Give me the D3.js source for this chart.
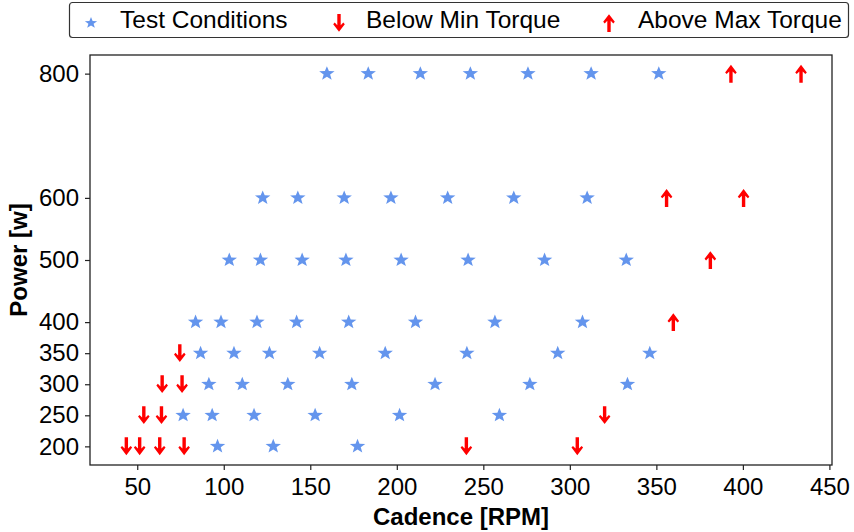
<!DOCTYPE html>
<html>
<head>
<meta charset="utf-8">
<script src="https://cdn.jsdelivr.net/npm/d3@7"></script>
<style>
  body { margin: 0; background: #fff; }
  svg { display: block; font-family: 'Liberation Sans', Arial, sans-serif; }
</style>
</head>
<body>
<svg id="chart" width="854" height="532"></svg>
<script>
// power levels (rows) and the cadences measured at each one
const powerLevels = [200, 250, 300, 350, 400, 500, 600, 800]

const testCadence = [
  [96.4, 128.6, 177.3],
  [76.5, 93.3, 117.5, 152.8, 201.6, 259.3],
  [91.4, 110.7, 137.0, 174.0, 222.1, 276.9, 333.3],
  [86.6, 105.9, 126.4, 155.4, 193.3, 240.5, 293.0, 346.2],
  [83.7, 98.4, 119.2, 142.1, 172.2, 210.8, 256.7, 307.3],
  [103.2, 121.2, 145.3, 170.6, 202.5, 241.2, 285.4, 332.6],
  [122.5, 142.8, 169.6, 196.6, 229.4, 267.6, 310.0],
  [159.6, 183.5, 213.6, 242.5, 275.8, 312.3, 351.4],
]

const belowCadence = [
  [43.7, 51.4, 63.0, 77.1, 240.2, 304.3],
  [53.8, 64.0, 320.1],
  [64.4, 75.9],
  [74.6],
  [], [], [], [],
]

const aboveCadence = [
  [], [], [], [],
  [359.8],
  [381.2],
  [355.9, 400.4],
  [393.1, 433.6],
]

const xTicks = [50, 100, 150, 200, 250, 300, 350, 400, 450]
const yTicks = [200, 250, 300, 350, 400, 500, 600, 800]
const legendLabels = ['Test Conditions', 'Below Min Torque', 'Above Max Torque']

const STAR = '#6495ED'
const RED = '#ff0000'
const TICK_FONT = 24
const LEGEND_FONT = 24.5

const svg = d3.select('#chart')
const W = +svg.attr('width')
const H = +svg.attr('height')
const margins = {top: 55, right: 22, bottom: 67, left: 90}
const width = W - margins.left - margins.right
const height = H - margins.top - margins.bottom

const flatten = (rows) => rows.flatMap((r, i) => r.map((c) => ({cadence: c, power: powerLevels[i]})))
const tests = flatten(testCadence)
const below = flatten(belowCadence)
const above = flatten(aboveCadence)

const x = d3.scaleLinear().domain([22.7, 451.5]).range([0, width])
const y = d3.scaleLinear().domain([170, 830]).range([height, 0])

const g = svg.append('g').attr('transform', `translate(${margins.left}, ${margins.top})`)

// star marker (matplotlib '*'-like) and arrow markers
function starPath(r) {
  const pts = []
  for (let i = 0; i < 10; i++) {
    const rr = i % 2 === 0 ? r : r * 0.42
    const a = -Math.PI / 2 + i * Math.PI / 5
    pts.push([rr * Math.cos(a) * 1.08, rr * Math.sin(a)])
  }
  return 'M' + pts.map((p) => p.join(',')).join('L') + 'Z'
}
const downArrow = 'M-1.7,-9L1.7,-9L1.7,2.2L4.3,-0.4L5.8,1.2L0,8.8L-5.8,1.2L-4.3,-0.4L-1.7,2.2Z'
const STAR_D = starPath(7.5)

// axes
const xAxis = g.append('g')
  .attr('class', 'axis axis--x')
  .attr('transform', `translate(0, ${height})`)
  .call(d3.axisBottom(x).tickValues(xTicks).tickSize(5).tickPadding(6))
xAxis.selectAll('text').attr('dy', '0.8em')

const yAxis = g.append('g')
  .attr('class', 'axis axis--y')
  .call(d3.axisLeft(y).tickValues(yTicks).tickSize(5).tickPadding(6))

svg.selectAll('.axis path.domain').remove()
svg.selectAll('.axis line').attr('stroke', '#222').attr('stroke-width', 1.2)
svg.selectAll('.axis text')
  .attr('fill', '#000')
  .attr('font-size', TICK_FONT)
  .attr('font-family', "'Liberation Sans', Arial, sans-serif")

// frame
g.append('rect')
  .attr('width', width)
  .attr('height', height)
  .attr('fill', 'none')
  .attr('stroke', '#222')
  .attr('stroke-width', 1.3)

// points
g.selectAll('.star')
  .data(tests)
  .enter()
  .append('path')
  .attr('class', 'star')
  .attr('d', STAR_D)
  .attr('fill', STAR)
  .attr('transform', (d) => `translate(${x(d.cadence)}, ${y(d.power)})`)

g.selectAll('.below')
  .data(below)
  .enter()
  .append('path')
  .attr('class', 'below')
  .attr('d', downArrow)
  .attr('fill', RED)
  .attr('transform', (d) => `translate(${x(d.cadence)}, ${y(d.power)})`)

g.selectAll('.above')
  .data(above)
  .enter()
  .append('path')
  .attr('class', 'above')
  .attr('d', downArrow)
  .attr('fill', RED)
  .attr('transform', (d) => `translate(${x(d.cadence)}, ${y(d.power)}) rotate(180)`)

// axis labels
svg.append('text')
  .attr('x', margins.left + width / 2)
  .attr('y', H - 7)
  .attr('text-anchor', 'middle')
  .attr('font-size', 24)
  .attr('font-weight', 'bold')
  .text('Cadence [RPM]')

svg.append('text')
  .attr('transform', `translate(27, ${margins.top + height / 2}) rotate(-90)`)
  .attr('text-anchor', 'middle')
  .attr('font-size', 24)
  .attr('font-weight', 'bold')
  .text('Power [w]')

// legend
const legend = svg.append('g').attr('class', 'legend')
legend.append('rect')
  .attr('x', 69.5)
  .attr('y', 2.5)
  .attr('width', 779)
  .attr('height', 35)
  .attr('rx', 3)
  .attr('fill', '#fff')
  .attr('stroke', '#333')
  .attr('stroke-width', 1.2)

const legendItems = [
  {label: legendLabels[0], mx: 91, tx: 120, d: starPath(6), rot: 0, fill: STAR},
  {label: legendLabels[1], mx: 339, tx: 366, d: downArrow, rot: 0, fill: RED},
  {label: legendLabels[2], mx: 609, tx: 638, d: downArrow, rot: 180, fill: RED},
]
const li = legend.selectAll('.item').data(legendItems).enter().append('g').attr('class', 'item')
li.append('path')
  .attr('d', (d) => d.d)
  .attr('fill', (d) => d.fill)
  .attr('transform', (d) => `translate(${d.mx}, 23) rotate(${d.rot})`)
li.append('text')
  .attr('x', (d) => d.tx)
  .attr('y', 28)
  .attr('font-size', LEGEND_FONT)
  .text((d) => d.label)
</script>
</body>
</html>
